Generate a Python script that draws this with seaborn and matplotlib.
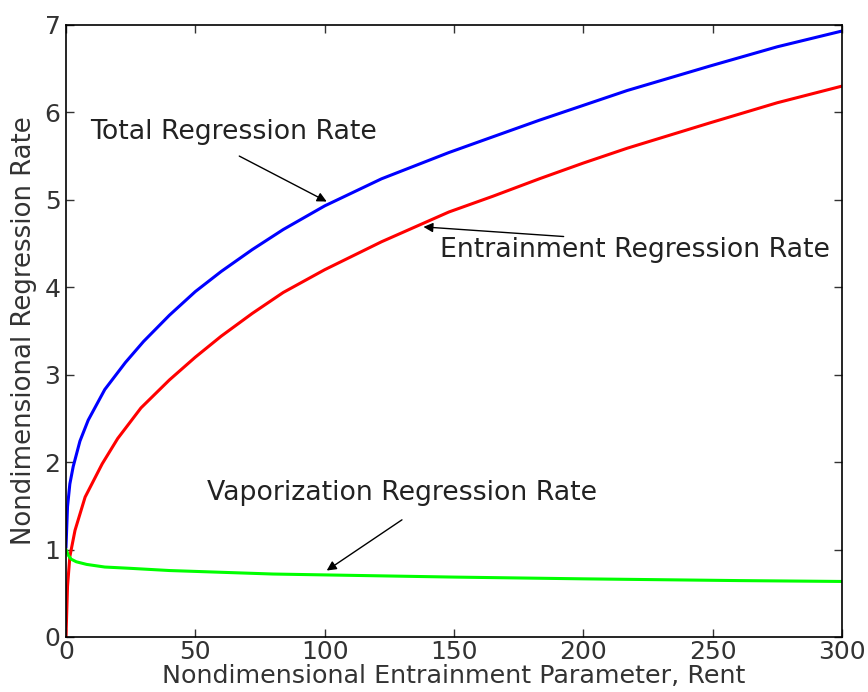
import pandas as pd
import seaborn as sns
import matplotlib
matplotlib.use("Agg")
import matplotlib.pyplot as plt

# values
total_x = [0, 0.6, 1.5, 2.8, 5.4, 8.6, 15, 23, 30, 40, 50, 60, 72, 84, 100,
           122, 148, 165, 183, 200, 217, 249, 275, 300]
total_y = [1.02, 1.49, 1.75, 1.95, 2.24, 2.48, 2.83, 3.14, 3.38, 3.68, 3.95,
           4.18, 4.43, 4.66, 4.93, 5.24, 5.54, 5.72, 5.91, 6.08, 6.25, 6.53,
           6.75, 6.93]

entr_x = [0, 0.6, 1.5, 3.5, 7.4, 14, 20, 29, 40, 50, 60, 72, 84, 100, 122,
          148, 165, 183, 200, 217, 249, 275, 300]
entr_y = [0.0, 0.58, 0.92, 1.22, 1.60, 1.98, 2.27, 2.62, 2.94, 3.20, 3.44,
          3.70, 3.94, 4.20, 4.52, 4.86, 5.04, 5.24, 5.42, 5.59, 5.88, 6.11,
          6.30]

vap_x = [0, 1, 2, 4, 8, 15, 25, 40, 60, 80, 110, 150, 200, 260, 300]
vap_y = [1.0, 0.93, 0.89, 0.86, 0.83, 0.80, 0.785, 0.76, 0.74, 0.72, 0.705,
         0.685, 0.665, 0.645, 0.635]

series = ["Total", "Entrainment", "Vaporization"]
colors = {"Total": "#0000ff", "Entrainment": "#ff0000", "Vaporization": "#00ff00"}

df = pd.concat([
    pd.DataFrame({"Rent": total_x, "rate": total_y, "series": "Total"}),
    pd.DataFrame({"Rent": entr_x, "rate": entr_y, "series": "Entrainment"}),
    pd.DataFrame({"Rent": vap_x, "rate": vap_y, "series": "Vaporization"}),
])

sns.set_style("ticks")
plt.rcParams["font.family"] = ["DejaVu Sans"]
plt.rcParams["xtick.direction"] = "in"
plt.rcParams["ytick.direction"] = "in"

fig = plt.figure(figsize=(8.68, 6.92), dpi=100)
ax = fig.add_axes([0.076, 0.0795, 0.894, 0.8845])

sns.lineplot(data=df, x="Rent", y="rate", hue="series", hue_order=series,
             palette=colors, linewidth=2.2, legend=False, ax=ax)

ax.set_xlim(0, 300)
ax.set_ylim(0, 7)
ax.set_xticks([0, 50, 100, 150, 200, 250, 300])
ax.set_yticks(range(0, 8))
ax.tick_params(axis="both", which="both", direction="in", top=True, right=True,
               length=6, width=1, labelsize=18, colors="#333333")
ax.tick_params(axis="x", pad=2)
ax.tick_params(axis="y", pad=4)
for s in ax.spines.values():
    s.set_visible(True)
    s.set_linewidth(1.2)
    s.set_color("black")

ax.set_xlabel("Nondimensional Entrainment Parameter, Rent", fontsize=18.3,
              labelpad=0, color="#333333")
ax.set_ylabel("Nondimensional Regression Rate", fontsize=18.7, labelpad=5,
              color="#333333")

note = dict(fontsize=19.3, color="#222222", va="center")
arrow = dict(arrowstyle="-|>", color="black", lw=1, mutation_scale=14,
             shrinkA=0, shrinkB=0)
ax.annotate("Total Regression Rate", xy=(100.8, 4.98), xytext=(9.3, 5.77),
            ha="left", **note)
ax.annotate("", xy=(100.8, 4.98), xytext=(67.0, 5.50), arrowprops=arrow)
ax.annotate("Entrainment Regression Rate", xy=(138.2, 4.69),
            xytext=(144.7, 4.43), ha="left", **note)
ax.annotate("", xy=(138.2, 4.69), xytext=(192.4, 4.58), arrowprops=arrow)
ax.annotate("Vaporization Regression Rate", xy=(100.8, 0.76),
            xytext=(54.5, 1.65), ha="left", **note)
ax.annotate("", xy=(100.8, 0.76), xytext=(129.9, 1.34), arrowprops=arrow)

fig.savefig("out.png", dpi=100)
